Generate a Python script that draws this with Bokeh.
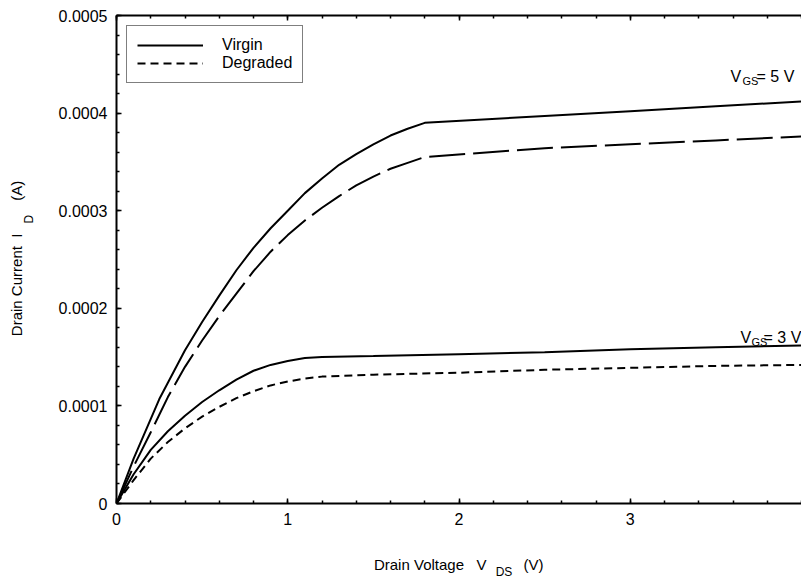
import numpy as np
from bokeh.plotting import figure
from bokeh.models import (Range1d, LinearAxis, FixedTicker, CustomJSTickFormatter,
                          Label, Legend, LegendItem)
from bokeh.embed import file_html
from bokeh.resources import INLINE

# ---------------- data ----------------
vds_5v_virgin = [0, 0.1, 0.25, 0.4, 0.5, 0.6, 0.7, 0.8, 0.9, 1.0, 1.1, 1.2, 1.3, 1.4, 1.5,
                 1.6, 1.7, 1.8, 2.5, 3.0, 3.5, 4.0]
id_5v_virgin = [0, 0.000046, 0.000107, 0.000157, 0.000186, 0.000213, 0.000239, 0.000262,
                0.000282, 0.000300, 0.000318, 0.000333, 0.000347, 0.000358, 0.000368,
                0.000377, 0.000384, 0.000390, 0.000397, 0.000402, 0.000407, 0.000412]

vds_5v_degraded = [0, 0.1, 0.2, 0.3, 0.4, 0.5, 0.6, 0.7, 0.8, 0.9, 1.0, 1.1, 1.2, 1.3, 1.4,
                   1.5, 1.6, 1.7, 1.8, 2.5, 3.0, 3.5, 4.0]
id_5v_degraded = [0, 0.000038, 0.000073, 0.000109, 0.000140, 0.000167, 0.000192, 0.000215,
                  0.000238, 0.000258, 0.000275, 0.000290, 0.000303, 0.000315, 0.000326,
                  0.000335, 0.000343, 0.000349, 0.000355, 0.000364, 0.000368, 0.000372,
                  0.000376]

vds_3v_virgin = [0, 0.1, 0.2, 0.3, 0.4, 0.5, 0.6, 0.7, 0.8, 0.9, 1.0, 1.1, 1.2, 1.5, 2.0,
                 2.5, 3.0, 3.5, 4.0]
id_3v_virgin = [0, 0.000030, 0.000055, 0.000074, 0.000090, 0.000104, 0.000116, 0.000127,
                0.000136, 0.000142, 0.000146, 0.000149, 0.000150, 0.000151, 0.000153,
                0.000155, 0.000158, 0.000160, 0.000162]

vds_3v_degraded = [0, 0.1, 0.2, 0.3, 0.4, 0.5, 0.6, 0.7, 0.8, 0.9, 1.0, 1.1, 1.2, 1.5, 2.0,
                   2.5, 3.0, 3.5, 4.0]
id_3v_degraded = [0, 0.000024, 0.000046, 0.000063, 0.000077, 0.000089, 0.000099, 0.000108,
                  0.000115, 0.000121, 0.000125, 0.000128, 0.000130, 0.000132, 0.000134,
                  0.000137, 0.000139, 0.000141, 0.000142]

x_major_ticks = [0, 1, 2, 3]
y_major_ticks = [0, 0.0001, 0.0002, 0.0003, 0.0004, 0.0005]
legend_labels = ["Virgin", "Degraded"]
x_title = ["Drain Voltage\u00a0\u00a0\u00a0V", "(V)"]
x_title_sub = ["DS"]
y_title = ["Drain Current\u00a0\u00a0I", "(A)"]
y_title_sub = ["D"]

FONT = "Liberation Sans"

p = figure(width=801, height=581, output_backend="svg", toolbar_location=None,
           x_range=Range1d(0, 4), y_range=Range1d(0, 0.0005),
           x_axis_type=None, y_axis_type=None,
           min_border_left=116, min_border_right=0, min_border_top=15, min_border_bottom=77)
p.outline_line_color = None
p.background_fill_color = "white"
p.border_fill_color = "white"

x_minor = [float(v) for v in np.round(np.arange(0, 4.001, 0.2), 3)]
y_minor = [float(v) for v in np.round(np.arange(0, 0.0005001, 0.00002), 6)]


def style_axis(ax, show_labels=True):
    ax.axis_line_width = 2
    ax.axis_line_color = "black"
    ax.major_tick_in = 5
    ax.major_tick_out = 0
    ax.minor_tick_in = 3
    ax.minor_tick_out = 0
    ax.major_tick_line_width = 1.5
    ax.minor_tick_line_width = 1.5
    ax.major_label_text_font = FONT
    ax.major_label_text_font_size = "16px" if show_labels else "0px"
    ax.major_label_text_color = "black"


def text_axis(ticks, labels, size, standoff, orientation=None):
    """An axis without line or ticks, used only to carry title text outside the frame."""
    ax = LinearAxis(ticker=FixedTicker(ticks=ticks, minor_ticks=[]),
                    formatter=CustomJSTickFormatter(args=dict(labels=labels),
                                                    code="return labels[index];"))
    ax.axis_line_color = None
    ax.major_tick_line_color = None
    ax.minor_tick_line_color = None
    ax.major_tick_in = 0
    ax.major_tick_out = 0
    ax.minor_tick_in = 0
    ax.minor_tick_out = 0
    ax.major_label_text_font = FONT
    ax.major_label_text_font_size = size
    ax.major_label_text_color = "black"
    ax.major_label_standoff = standoff
    if orientation is not None:
        ax.major_label_orientation = orientation
    return ax


xaxis = LinearAxis(ticker=FixedTicker(ticks=x_major_ticks, minor_ticks=x_minor))
style_axis(xaxis)
xaxis.major_label_standoff = 9
p.add_layout(xaxis, "below")

yaxis = LinearAxis(ticker=FixedTicker(ticks=y_major_ticks, minor_ticks=y_minor),
                   formatter=CustomJSTickFormatter(code="return tick == 0 ? '0' : tick.toFixed(4);"))
style_axis(yaxis)
yaxis.major_label_standoff = 9
p.add_layout(yaxis, "left")

topaxis = LinearAxis(ticker=FixedTicker(ticks=x_major_ticks, minor_ticks=x_minor),
                     formatter=CustomJSTickFormatter(code="return '';"))
style_axis(topaxis, show_labels=False)
topaxis.major_label_standoff = 0
p.add_layout(topaxis, "above")

# axis titles (with subscripts) carried by label-only axes
p.add_layout(text_axis([1.832, 2.435], x_title, "15px", 28), "below")
p.add_layout(text_axis([2.263], x_title_sub, "12px", -11), "below")
p.add_layout(text_axis([0.0002913], y_title_sub, "12px", 19, "parallel"), "left")
p.add_layout(text_axis([0.000224, 0.0003204], y_title, "15px", -6, "parallel"), "left")

# ---------------- curves ----------------
r5v = p.line(vds_5v_virgin, id_5v_virgin, line_color="black", line_width=2)
r5d = p.line(vds_5v_degraded, id_5v_degraded, line_color="black", line_width=2, line_dash="36 8")
r3v = p.line(vds_3v_virgin, id_3v_virgin, line_color="black", line_width=2)
r3d = p.line(vds_3v_degraded, id_3v_degraded, line_color="black", line_width=2, line_dash="8 5")

legend = Legend(items=[LegendItem(label=legend_labels[0], renderers=[r5v]),
                       LegendItem(label=legend_labels[1], renderers=[r3d])],
                location="top_left", margin=10, padding=10, spacing=0,
                glyph_width=66, glyph_height=16, label_standoff=19,
                label_text_font=FONT, label_text_font_size="16px", label_text_color="black",
                border_line_color="black", border_line_width=1.5,
                background_fill_alpha=1.0)
p.add_layout(legend)


def lab(text, x, y, size="16px"):
    p.add_layout(Label(x=x, y=y, x_units="screen", y_units="screen", text=text,
                       text_font=FONT, text_font_size=size, text_color="black",
                       text_baseline="alphabetic", text_align="left"))


# curve annotations (screen coordinates relative to the plot frame)
lab("V", 614, 427)
lab("GS", 626, 423, size="11px")
lab("= 5 V", 640, 427)

lab("V", 624, 166)
lab("GS", 635, 162, size="11px")
lab("= 3 V", 647, 166)

open("out.html", "w").write(file_html(p, INLINE))
